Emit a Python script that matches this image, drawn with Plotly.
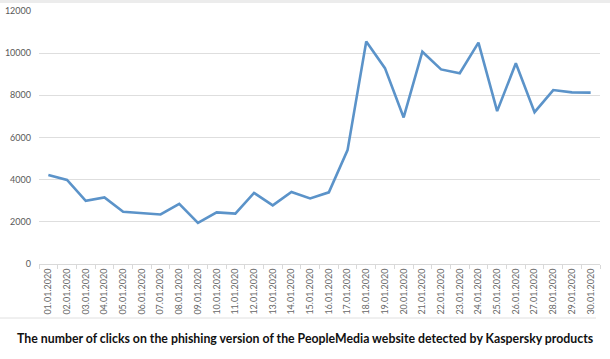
import plotly.graph_objects as go

dates = [f"{d:02d}.01.2020" for d in range(1, 31)]
clicks = [4220, 3990, 3000, 3160, 2480, 2420, 2350, 2850, 1950, 2450,
          2390, 3370, 2780, 3420, 3110, 3400, 5400, 10550, 9290, 6950,
          10070, 9230, 9050, 10500, 7250, 9520, 7200, 8250, 8140, 8130]
y_ticks = [0, 2000, 4000, 6000, 8000, 10000, 12000]
title_text = "The number of clicks on the phishing version of the PeopleMedia website detected by Kaspersky products"

W, H = 610, 359
L, R, T, B = 39, 10, 11, 95
ph = H - T - B
pw = W - L - R

fig = go.Figure()
fig.add_trace(go.Scatter(
    x=dates, y=clicks, mode="lines",
    line=dict(color="#5b93c9", width=2.6),
    hoverinfo="x+y",
))

fig.update_layout(
    width=W, height=H,
    margin=dict(l=L, r=R, t=T, b=B, autoexpand=False),
    paper_bgcolor="white", plot_bgcolor="white",
    showlegend=False,
    font=dict(family="Lato, Open Sans, sans-serif", color="#595959", size=9),
)
fig.update_yaxes(
    range=[0, 12000], tickvals=y_ticks, ticktext=[str(v) for v in y_ticks],
    showgrid=True, gridcolor="#dedede", gridwidth=1, automargin=False,
    zeroline=False, showline=False, ticks="", ticklabelstandoff=7,
    tickfont=dict(size=9, color="#595959"),
)
fig.update_xaxes(
    type="category", tickangle=-90, automargin=False,
    showgrid=False, showline=True, linecolor="#d9d9d9", linewidth=1,
    ticks="outside", tickson="boundaries", ticklen=4, tickcolor="#d9d9d9",
    tickfont=dict(size=9, color="#666666"),
    range=[-0.5, 29.5],
)

# thin separator line above caption
sep_y = -(318 - (H - B)) / ph
fig.add_shape(type="line", xref="paper", yref="paper",
              x0=(0 - L) / pw, x1=(596 - L) / pw, y0=sep_y, y1=sep_y,
              line=dict(color="#e0e0e0", width=1))
# faint top band
fig.add_shape(type="rect", xref="paper", yref="paper",
              x0=-L / pw, x1=(W - L) / pw,
              y0=1 + (T - 3) / ph, y1=1 + T / ph,
              fillcolor="#ececec", line=dict(width=0), layer="below")

fig.add_annotation(
    text=f"<b>{title_text}</b>", xref="paper", yref="paper",
    x=(305 - L) / pw, y=-(338 - (H - B)) / ph, xanchor="center", yanchor="middle",
    showarrow=False, font=dict(family="Lato, Open Sans, sans-serif", size=12.3, color="#111111"),
)

fig.write_html("out.html",
               config={"displayModeBar": False},
               post_script="document.body.style.margin='0';document.body.style.padding='0';")
